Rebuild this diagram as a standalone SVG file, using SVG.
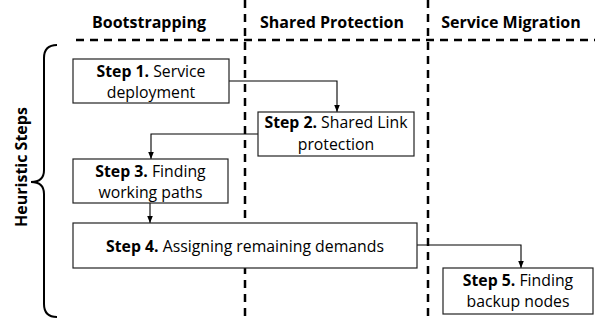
<svg xmlns="http://www.w3.org/2000/svg" width="595" height="322" viewBox="0 0 595 322">
<style>
text{font-family:"Open Sans","Liberation Sans",sans-serif;fill:#000}
.hdr{font-size:16px;font-weight:bold;text-anchor:middle}
.t{font-size:15.8px;text-anchor:middle}
.b{font-weight:bold}
.box{fill:#fff;stroke:#222;stroke-width:1.2}
.dash{stroke:#000;stroke-width:2.5;stroke-dasharray:8 6;fill:none}
.conn{stroke:#000;stroke-width:1.1;fill:none;marker-end:url(#arr)}
</style>
<defs>
<marker id="arr" markerUnits="userSpaceOnUse" markerWidth="8" markerHeight="8" viewBox="0 0 8 8" refX="7" refY="4" orient="auto">
<path d="M0,1.2 L7,4 L0,6.8 Z" fill="#000"/>
</marker>
</defs>
<rect width="595" height="322" fill="#fff"/>
<g id="lanes">
<line class="dash" x1="245" y1="0" x2="245" y2="322"/>
<line class="dash" x1="428" y1="0" x2="428" y2="322"/>
<line class="dash" x1="76" y1="40" x2="595" y2="40"/>
<text class="hdr" x="149" y="28">Bootstrapping</text>
<text class="hdr" x="332" y="28">Shared Protection</text>
<text class="hdr" x="511" y="28">Service Migration</text>
</g>
<g id="brace">
<path d="M57,45 Q44,45 44,58 L44,170 Q44,182 31,182 Q44,182 44,194 L44,304 Q44,317 57,317" fill="none" stroke="#000" stroke-width="2"/>
<text class="hdr" transform="translate(27,167) rotate(-90)">Heuristic Steps</text>
</g>
<g id="connectors">
<path class="conn" d="M229,81 H337 V112"/>
<path class="conn" d="M258,134 H151 V159"/>
<path class="conn" d="M150,203 V223"/>
<path class="conn" d="M417,245 H521 V268"/>
</g>
<g id="step1">
<rect class="box" x="73" y="59" width="156" height="44"/>
<text class="t" x="151" y="77"><tspan class="b">Step 1.</tspan> Service</text>
<text class="t" x="151" y="98">deployment</text>
</g>
<g id="step2">
<rect class="box" x="258" y="112" width="156" height="44"/>
<text class="t" x="336" y="128"><tspan class="b">Step 2.</tspan> Shared Link</text>
<text class="t" x="336" y="150">protection</text>
</g>
<g id="step3">
<rect class="box" x="73" y="159" width="155" height="44"/>
<text class="t" x="150.5" y="177"><tspan class="b">Step 3.</tspan> Finding</text>
<text class="t" x="150.5" y="198">working paths</text>
</g>
<g id="step4">
<rect class="box" x="73" y="223" width="344" height="45"/>
<text class="t" x="245" y="252"><tspan class="b">Step 4.</tspan> Assigning remaining demands</text>
</g>
<g id="step5">
<rect class="box" x="443" y="268" width="150" height="46"/>
<text class="t" x="518" y="286"><tspan class="b">Step 5.</tspan> Finding</text>
<text class="t" x="518" y="307">backup nodes</text>
</g>
</svg>
